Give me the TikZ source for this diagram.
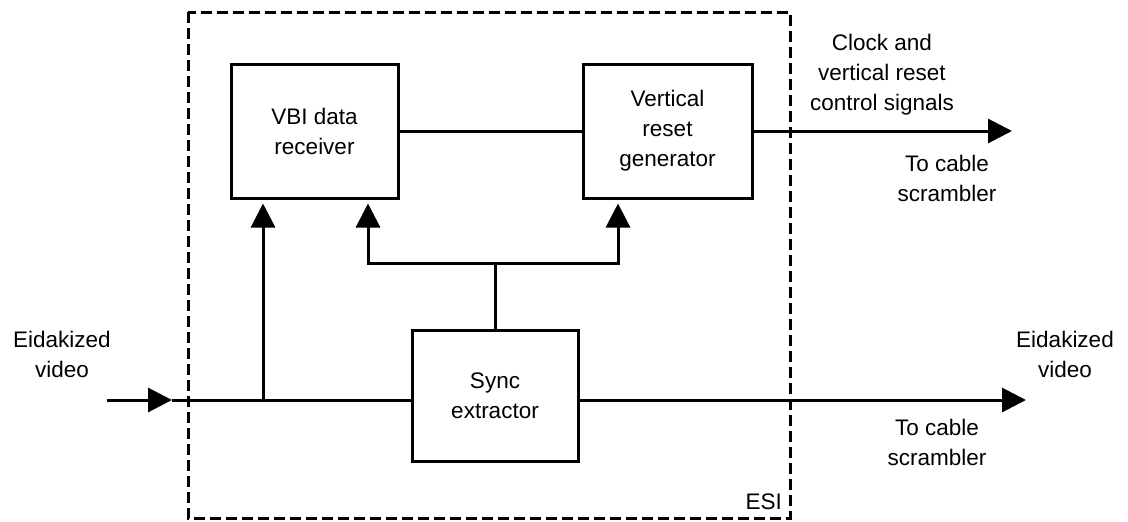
\documentclass[tikz,border=0pt]{standalone}
\usepackage{fontspec}
\setmainfont{Liberation Sans}
\usetikzlibrary{arrows.meta}
\begin{document}
\begin{tikzpicture}[x=1pt,y=-1pt,
  every node/.style={font=\fontsize{22.5}{30}\selectfont, align=center, inner sep=0pt},
  blk/.style={draw, line width=3pt, minimum width=167pt, minimum height=134pt},
  wire/.style={line width=3pt},
  arr/.style={wire, -{Triangle[length=24pt,width=24pt]}},
  frame/.style={line width=3pt, dash pattern=on 11pt off 5pt}]
\useasboundingbox (0,0) rectangle (1128,522);
\draw[frame] (188,12) rectangle (790,518);
\node[anchor=south east] (esi) at (782,510) {ESI};

\node[blk] (vbi) at (314.5,131) {VBI data\\receiver};
\node[blk, minimum width=169pt] (vrg) at (667.5,131) {Vertical\\reset\\generator};
\node[blk, minimum width=166pt, minimum height=131pt] (sync) at (495,396) {Sync\\extractor};

% labels
\node (clk) at (882,75) {Clock and\\vertical reset\\control signals};
\node (tc1) at (947,178) {To cable\\scrambler};
\node (ein) at (62,354) {Eidakized\\video};
\node (eout) at (1065,354) {Eidakized\\video};
\node (tc2) at (937,442) {To cable\\scrambler};

% coordinates
\coordinate (in) at (107,400);
\coordinate (inarr) at (172,400);
\coordinate (j1) at (263,400);
\coordinate (out1) at (1012,131);
\coordinate (out2) at (1026,400);
\coordinate (hl) at (368,263);
\coordinate (hm) at (495,263);
\coordinate (hr) at (618,263);

% connectors
\draw[wire] (vbi.east) -- (vrg.west);
\draw[arr] (vrg.east) -- (out1);
\draw[arr] (in) -- (inarr);
\draw[wire] (inarr) -- (sync.west |- inarr);
\draw[arr] (sync.east |- out2) -- (out2);
\draw[arr, shorten >=4pt] (j1) -- (vbi.south -| j1);
\draw[wire] (sync.north) -- (hm);
\draw[arr, shorten >=4pt] (hm) -- (hl) -- (vbi.south -| hl);
\draw[arr, shorten >=4pt] (hm) -- (hr) -- (vrg.south -| hr);
\end{tikzpicture}
\end{document}
